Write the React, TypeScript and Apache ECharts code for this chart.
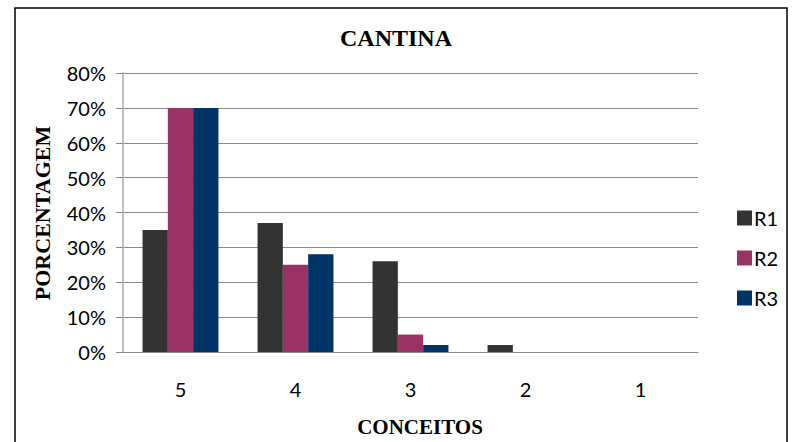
import React, { useEffect, useRef } from "react";
import * as echarts from "echarts";

const categories = ["5", "4", "3", "2", "1"];
const seriesNames = ["R1", "R2", "R3"];
const r1Values = [35, 37, 26, 2, 0];
const r2Values = [70, 25, 5, 0, 0];
const r3Values = [70, 28, 2, 0, 0];
const colors = ["#333333", "#993366", "#003366"];
const yTicks = { min: 0, max: 80, interval: 10 };

export default function App() {
  const ref = useRef<HTMLDivElement>(null);
  useEffect(() => {
    if (!ref.current) return;
    const chart = echarts.init(ref.current, undefined, { renderer: "svg" });
    const values = [r1Values, r2Values, r3Values];
    chart.setOption({
      animation: false,
      backgroundColor: "#ffffff",
      title: {
        text: "CANTINA",
        left: "center",
        top: 21,
        textStyle: {
          fontFamily: "Liberation Serif",
          fontWeight: "bold",
          fontSize: 24,
          color: "#000",
        },
      },
      grid: { left: 123, right: 94, top: 73, bottom: 90 },
      legend: {
        orient: "vertical",
        left: 732,
        top: 203,
        itemWidth: 15,
        itemHeight: 15,
        itemGap: 20,
        icon: "rect",
        data: seriesNames,
        textStyle: {
          fontFamily: "Lato",
          fontSize: 20,
          lineHeight: 20,
          color: "#000",
          padding: [0, 0, 0, -3],
        },
      },
      xAxis: {
        type: "category",
        data: categories,
        axisLine: { show: true, lineStyle: { color: "#888888", width: 1 } },
        axisTick: { show: false },
        axisLabel: {
          fontFamily: "Lato",
          fontSize: 20,
          color: "#000",
          margin: 27,
        },
      },
      yAxis: {
        type: "value",
        min: yTicks.min,
        max: yTicks.max,
        interval: yTicks.interval,
        axisLine: { show: true, lineStyle: { color: "#bfbfbf", width: 2 } },
        axisTick: { show: true, length: 7, lineStyle: { color: "#888888" } },
        splitLine: { show: true, lineStyle: { color: "#888888", width: 1 } },
        axisLabel: {
          formatter: "{value}%",
          fontFamily: "Lato",
          fontSize: 20,
          color: "#000",
          margin: 17,
        },
      },
      graphic: [
        {
          type: "rect",
          shape: { x: 15, y: 8, width: 772, height: 460 },
          style: { fill: "none", stroke: "#000", lineWidth: 1.5 },
          silent: true,
        },
        {
          type: "text",
          x: 42,
          y: 213,
          rotation: Math.PI / 2,
          style: {
            text: "PORCENTAGEM",
            fontFamily: "Liberation Serif",
            fontWeight: "bold",
            fontSize: 22,
            fill: "#000",
            align: "center",
            verticalAlign: "middle",
          },
        },
        {
          type: "text",
          x: 420,
          y: 427,
          style: {
            text: "CONCEITOS",
            fontFamily: "Liberation Serif",
            fontWeight: "bold",
            fontSize: 21,
            fill: "#000",
            align: "center",
            verticalAlign: "middle",
          },
        },
      ],
      series: seriesNames.map((name, i) => ({
        name,
        type: "bar",
        data: values[i],
        barGap: "0%",
        barCategoryGap: "34%",
        itemStyle: { color: colors[i] },
      })),
    });
    return () => chart.dispose();
  }, []);
  return (
    <div
      ref={ref}
      style={{ position: "fixed", left: 0, top: 0, width: 792, height: 442 }}
    />
  );
}
